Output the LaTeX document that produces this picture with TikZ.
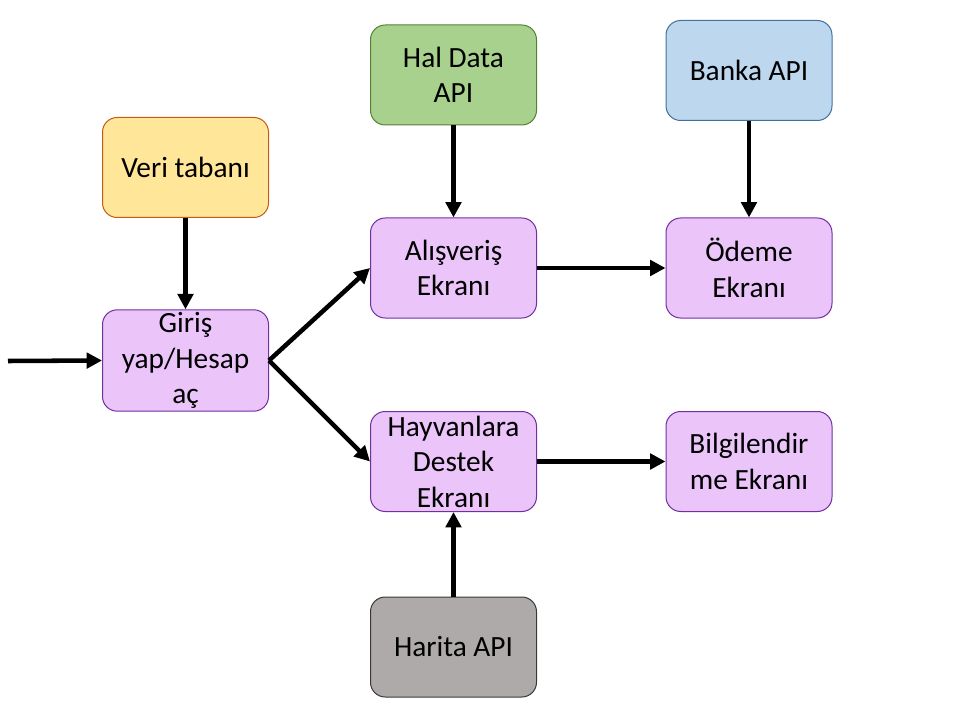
\documentclass[tikz,border=0pt]{standalone}
\usepackage{fontspec}
\setmainfont{Carlito}
\usetikzlibrary{arrows.meta}
\definecolor{ylwfill}{HTML}{FFE699}
\definecolor{ylwdraw}{HTML}{C55A11}
\definecolor{grnfill}{HTML}{A9D18E}
\definecolor{grndraw}{HTML}{548235}
\definecolor{blufill}{HTML}{BDD7EE}
\definecolor{bludraw}{HTML}{41719C}
\definecolor{gryfill}{HTML}{AEAAAA}
\definecolor{grydraw}{HTML}{3B3838}
\definecolor{lavfill}{HTML}{EBC4F9}
\definecolor{lavdraw}{HTML}{7030A0}
\begin{document}
\begin{tikzpicture}[x=0.75pt,y=-0.75pt,
  box/.style={rectangle, rounded corners=11pt, minimum width=124.5pt, minimum height=75pt,
    line width=0.75pt, align=center, inner sep=2pt, font=\fontsize{22}{26.6}\selectfont},
  screen/.style={box, fill=lavfill, draw=lavdraw},
  flow/.style={line width=3.4pt, -{Triangle[length=11.5pt,width=11.5pt]}}]
\useasboundingbox (0,0) rectangle (960,720);
\node[box, fill=ylwfill, draw=ylwdraw] (veri) at (185.5,167.5) {Veri tabanı};
\node[screen] (giris) at (185.5,360.5) {Giriş\\yap/Hesap\\aç};
\node[box, fill=grnfill, draw=grndraw] (hal) at (453.5,75) {Hal Data\\API};
\node[screen] (alis) at (453.5,268) {Alışveriş\\Ekranı};
\node[box, fill=blufill, draw=bludraw] (banka) at (749,70.5) {Banka API};
\node[screen] (odeme) at (749,268) {Ödeme\\Ekranı};
\node[screen] (hayv) at (453.5,461.5) {Hayvanlara\\Destek\\Ekranı};
\node[screen] (bilg) at (749,461.5) {Bilgilendir\\me Ekranı};
\node[box, fill=gryfill, draw=grydraw] (harita) at (453.5,647) {Harita API};
\coordinate (start) at (8,361);
\draw[flow] (start) -- (giris.west);
\draw[flow] (veri.south) -- (giris.north);
\draw[flow] (giris.east) -- (alis.west);
\draw[flow] (giris.east) -- (hayv.west);
\draw[flow] (hal.south) -- (alis.north);
\draw[flow] (banka.south) -- (odeme.north);
\draw[flow] (alis.east) -- (odeme.west);
\draw[flow] (hayv.east) -- (bilg.west);
\draw[flow] (harita.north) -- (hayv.south);
\end{tikzpicture}
\end{document}
